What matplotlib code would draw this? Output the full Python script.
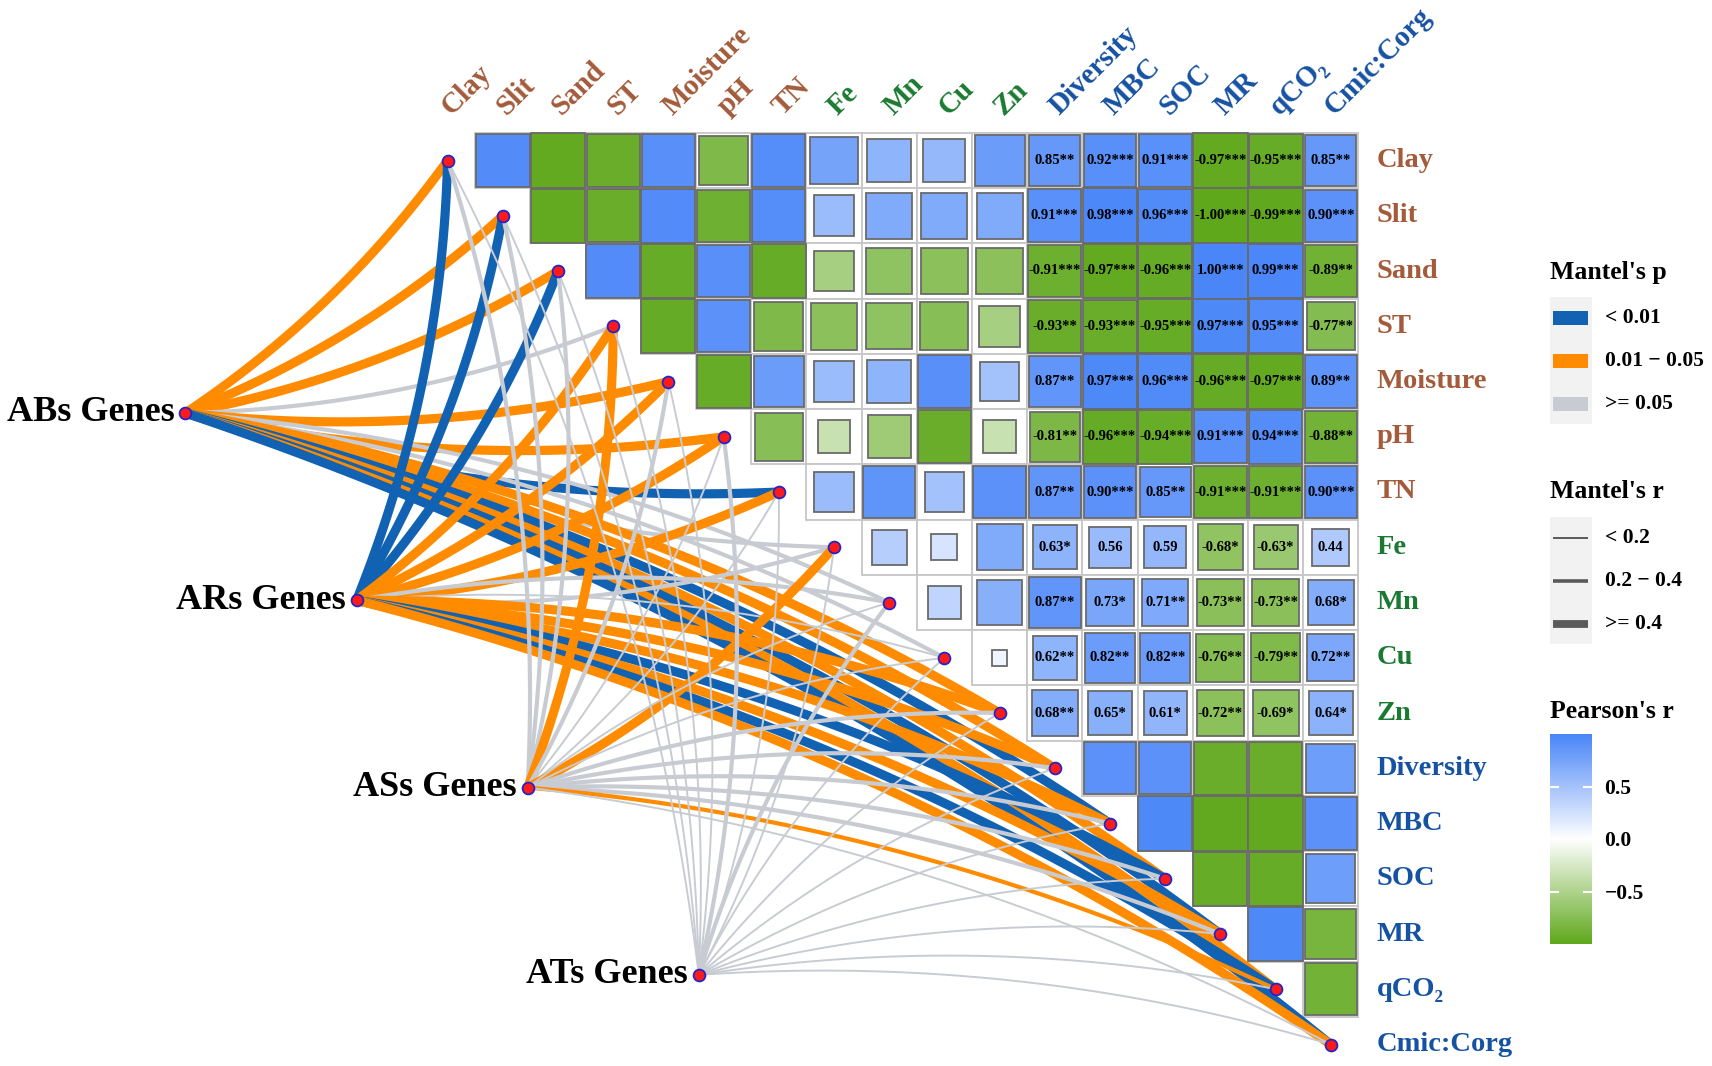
import numpy as np
import matplotlib.pyplot as plt
from matplotlib.colors import LinearSegmentedColormap
from matplotlib.patches import Rectangle

plt.rcParams['font.family'] = ['Liberation Serif', 'DejaVu Serif']
plt.rcParams['font.weight'] = 'bold'

# ---- data -------------------------------------------------------------
variables = ['Clay', 'Slit', 'Sand', 'ST', 'Moisture', 'pH', 'TN', 'Fe', 'Mn', 'Cu', 'Zn',
             'Diversity', 'MBC', 'SOC', 'MR', 'qCO\u2082', 'Cmic:Corg']
var_groups = ['soil'] * 7 + ['metal'] * 4 + ['micro'] * 6

# upper triangle of Pearson's r; row i holds the columns i+1 .. 16
pearson_r = [
    [0.95, -0.97, -0.93, 0.92, -0.80, 0.93, 0.75, 0.62, 0.58, 0.82, 0.85, 0.92, 0.91, -0.97, -0.95, 0.85],
    [-0.97, -0.93, 0.95, -0.90, 0.93, 0.55, 0.70, 0.70, 0.70, 0.91, 0.98, 0.96, -1.00, -0.99, 0.90],
    [0.95, -0.95, 0.92, -0.95, -0.55, -0.70, -0.72, -0.72, -0.91, -0.97, -0.96, 1.00, 0.99, -0.89],
    [-0.96, 0.90, -0.80, -0.72, -0.70, -0.75, -0.55, -0.93, -0.93, -0.95, 0.97, 0.95, -0.77],
    [-0.95, 0.82, 0.55, 0.62, 0.92, 0.50, 0.87, 0.97, 0.96, -0.96, -0.97, 0.89],
    [-0.75, -0.35, -0.60, -0.93, -0.35, -0.81, -0.96, -0.94, 0.91, 0.94, -0.88],
    [0.55, 0.88, 0.50, 0.90, 0.87, 0.90, 0.85, -0.91, -0.91, 0.90],
    [0.40, 0.22, 0.70, 0.63, 0.56, 0.59, -0.68, -0.63, 0.44],
    [0.35, 0.65, 0.87, 0.73, 0.71, -0.73, -0.73, 0.68],
    [0.08, 0.62, 0.82, 0.82, -0.76, -0.79, 0.72],
    [0.68, 0.65, 0.61, -0.72, -0.69, 0.64],
    [0.90, 0.90, -0.93, -0.93, 0.80],
    [0.97, -0.98, -0.98, 0.90],
    [-0.95, -0.95, 0.80],
    [0.97, -0.85],
    [-0.88],
]

# significance stars shown in rows Clay..Zn, columns Diversity..Cmic:Corg
stars = [
    ['**', '***', '***', '***', '***', '**'],
    ['***', '***', '***', '***', '***', '***'],
    ['***', '***', '***', '***', '***', '**'],
    ['**', '***', '***', '***', '***', '**'],
    ['**', '***', '***', '***', '***', '**'],
    ['**', '***', '***', '***', '***', '**'],
    ['**', '***', '**', '***', '***', '***'],
    ['*', '', '', '*', '*', ''],
    ['**', '*', '**', '**', '**', '*'],
    ['**', '**', '**', '**', '**', '**'],
    ['**', '*', '*', '**', '*', '*'],
]

genes = ['ABs Genes', 'ARs Genes', 'ASs Genes', 'ATs Genes']
mantel_p = [
    [0.03, 0.03, 0.03, 0.20, 0.03, 0.03, 0.005, 0.20, 0.20, 0.20, 0.03, 0.03, 0.005, 0.03, 0.005, 0.03, 0.005],
    [0.005, 0.005, 0.005, 0.03, 0.03, 0.03, 0.03, 0.20, 0.20, 0.20, 0.03, 0.03, 0.03, 0.005, 0.03, 0.005, 0.03],
    [0.30, 0.30, 0.30, 0.03, 0.30, 0.30, 0.30, 0.03, 0.30, 0.30, 0.30, 0.30, 0.30, 0.30, 0.30, 0.03, 0.30],
    [0.40, 0.40, 0.40, 0.40, 0.40, 0.40, 0.40, 0.40, 0.40, 0.40, 0.40, 0.40, 0.40, 0.40, 0.40, 0.40, 0.40],
]
mantel_r = [
    [0.50, 0.50, 0.50, 0.30, 0.50, 0.50, 0.50, 0.30, 0.30, 0.30, 0.50, 0.50, 0.50, 0.50, 0.50, 0.50, 0.50],
    [0.50, 0.50, 0.50, 0.50, 0.50, 0.50, 0.50, 0.30, 0.30, 0.15, 0.50, 0.50, 0.50, 0.50, 0.50, 0.50, 0.50],
    [0.30, 0.30, 0.30, 0.50, 0.30, 0.15, 0.15, 0.50, 0.15, 0.15, 0.30, 0.30, 0.30, 0.30, 0.30, 0.30, 0.15],
    [0.10, 0.10, 0.10, 0.10, 0.10, 0.30, 0.10, 0.10, 0.30, 0.10, 0.10, 0.10, 0.10, 0.10, 0.10, 0.10, 0.10],
]

# ---- styling ------------------------------------------------------------
group_colors = {'soil': '#A35B3A', 'metal': '#1B7A31', 'micro': '#1652A2'}
cmap = LinearSegmentedColormap.from_list('pr', ['#5FA81C', '#FFFFFF', '#4A86F8'])
p_colors = ['#1262B3', '#FF8C00', '#C8CCD2']
r_widths = [1.4, 3.0, 6.6]


def p_class(p):
    return 0 if p < 0.01 else (1 if p < 0.05 else 2)


def r_class(r):
    return 0 if r < 0.2 else (1 if r < 0.4 else 2)


# pixel <-> data mapping (column / row units)
W, H = 1712, 1066
X0, SX, Y0, SY = 447.6, 55.2, 160.5, 55.25
n = len(variables)

fig = plt.figure(figsize=(W / 100, H / 100), dpi=100)
ax = fig.add_axes([0, 0, 1, 1])
ax.set_xlim(1 - X0 / SX, 1 + (W - X0) / SX)
ax.set_ylim(1 + (H - Y0) / SY, 1 - Y0 / SY)
ax.axis('off')

# correlation squares
for i in range(n - 1):
    for k, r in enumerate(pearson_r[i]):
        j = i + 1 + k
        cx, cy = j + 1, i + 1
        ax.add_patch(Rectangle((cx - 0.5, cy - 0.5), 1, 1, fc='white', ec='#C6C6C6', lw=1.3, zorder=1))
        s = np.sqrt(abs(r))
        ax.add_patch(Rectangle((cx - s / 2, cy - s / 2), s, s, fc=cmap((r + 1) / 2),
                               ec='#6A6A6A', lw=1.3, zorder=2))
        if i < len(stars) and j >= 11:
            ax.text(cx, cy, f'{r:.2f}{stars[i][j - 11]}', ha='center', va='center',
                    fontsize=10.5, color='black', zorder=3)

# axis labels
for j, name in enumerate(variables):
    col = group_colors[var_groups[j]]
    ax.text(j + 1 + 4 / SX, 1 + (116 - Y0) / SY, name, rotation=45, rotation_mode='anchor',
            ha='left', va='baseline', fontsize=21, color=col)
    ax.text(1 + (1377 - X0) / SX, j + 1, name, ha='left', va='center', fontsize=20.5, color=col)

# Mantel links
gene_x0, gene_y0, gene_dx, gene_dy = -3.75, 5.57, 3.1, 3.39
gene_pos = [(gene_x0 + g * gene_dx, gene_y0 + g * gene_dy) for g in range(len(genes))]


def curve(p0, p1, sign, c=0.09, num=80):
    p0, p1 = np.asarray(p0, float), np.asarray(p1, float)
    d = p1 - p0
    ctrl = (p0 + p1) / 2 + sign * c * np.array([-d[1], d[0]])
    t = np.linspace(0, 1, num)[:, None]
    return (1 - t) ** 2 * p0 + 2 * (1 - t) * t * ctrl + t ** 2 * p1


for g, (gx, gy) in enumerate(gene_pos):
    for j in range(n):
        pts = curve((gx, gy), (j + 1, j + 1), 1 if j <= 7 else -1)
        ax.plot(pts[:, 0], pts[:, 1], color=p_colors[p_class(mantel_p[g][j])],
                lw=r_widths[r_class(mantel_r[g][j])], solid_capstyle='butt', zorder=4)

for g, (gx, gy) in enumerate(gene_pos):
    ax.text(gx - 11 / SX, gy, genes[g], ha='right', va='center', fontsize=26, color='black')
    ax.plot(gx, gy, 'o', ms=8.5, mfc='#FF1A1A', mec='#2424C8', mew=1.3, zorder=6)
diag = np.arange(1, n + 1)
ax.plot(diag, diag, 'o', ls='none', ms=8.5, mfc='#FF1A1A', mec='#2424C8', mew=1.3, zorder=6)

# ---- legends (pixel coordinates) -------------------------------------------
lax = fig.add_axes([0, 0, 1, 1])
lax.set_xlim(0, W)
lax.set_ylim(H, 0)
lax.axis('off')

lx, tx = 1550, 1605
lax.text(lx, 273, "Mantel's p", fontsize=18.5, va='center', ha='left')
lax.add_patch(Rectangle((lx, 297), 42, 127, fc='#F2F2F2', ec='none'))
for y, c, lab in zip([318, 361, 404], p_colors, ['< 0.01', '0.01 \u2212 0.05', '>= 0.05']):
    lax.add_patch(Rectangle((1553, y - 7), 35, 14, fc=c, ec='none'))
    lax.text(tx, y, lab, fontsize=15.5, va='center', ha='left')

lax.text(lx, 492, "Mantel's r", fontsize=18.5, va='center', ha='left')
lax.add_patch(Rectangle((lx, 517), 42, 127, fc='#F2F2F2', ec='none'))
for y, w, lab in zip([538, 581, 624], [1.4, 2.6, 5.6], ['< 0.2', '0.2 \u2212 0.4', '>= 0.4']):
    lax.plot([1553, 1588], [y, y], color='#5A5A5A', lw=w, solid_capstyle='butt')
    lax.text(tx, y, lab, fontsize=15.5, va='center', ha='left')

lax.text(lx, 711, "Pearson's r", fontsize=18.5, va='center', ha='left')
cax = fig.add_axes([lx / W, 1 - 944 / H, 42 / W, (944 - 734) / H])
cax.imshow(np.linspace(-1, 1, 256)[:, None], cmap=cmap, vmin=-1, vmax=1, aspect='auto',
           origin='lower', extent=[0, 1, -1, 1])
for v in [-0.5, 0.0, 0.5]:
    cax.plot([0, 0.2], [v, v], color='white', lw=1.5)
    cax.plot([0.8, 1], [v, v], color='white', lw=1.5)
cax.set_xlim(0, 1)
cax.set_ylim(-1, 1)
cax.set_xticks([])
cax.yaxis.tick_right()
cax.set_yticks([-0.5, 0.0, 0.5])
cax.set_yticklabels(['\u22120.5', '0.0', '0.5'], fontsize=15.5, fontweight='bold')
cax.tick_params(axis='y', length=0, pad=9)
for sp in cax.spines.values():
    sp.set_visible(False)

fig.savefig('out.png', dpi=100)
